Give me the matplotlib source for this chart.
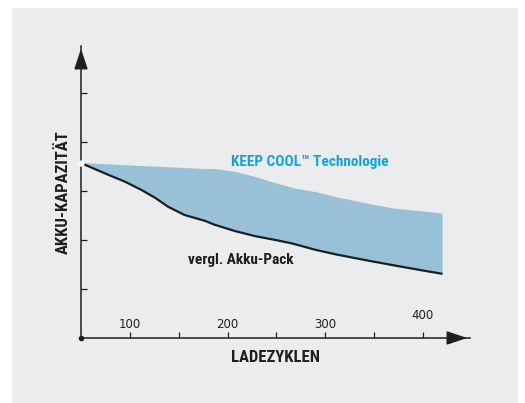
import matplotlib

matplotlib.use("Agg")
import matplotlib.pyplot as plt
from matplotlib.patches import Rectangle

plt.rcParams["font.family"] = ["Roboto Condensed", "Liberation Sans Narrow",
                               "DejaVu Sans"]
plt.rcParams["font.stretch"] = "condensed"

# KEEP COOL Kurve (obere Kante der Fläche)
cool_cycles = [50, 113, 177, 187, 208, 228, 249, 269, 290, 310, 341, 371, 402, 420]
cool_capacity = [3.57, 3.51, 3.45, 3.45, 3.39, 3.29, 3.16, 3.05, 2.98, 2.88,
                 2.75, 2.64, 2.58, 2.54]

# Vergleichs-Akku (schwarze Linie)
pack_cycles = [50, 78, 95, 112, 126, 139, 156, 177, 187, 208, 228, 249, 266,
               290, 310, 341, 371, 402, 420]
pack_capacity = [3.57, 3.33, 3.19, 3.02, 2.86, 2.68, 2.51, 2.39, 2.31, 2.18,
                 2.08, 2.00, 1.93, 1.80, 1.71, 1.59, 1.48, 1.37, 1.31]

x_ticks = [100, 150, 200, 250, 300, 350, 400]
x_labels = ["100", "", "200", "", "300", "", "400"]
label_offsets = [0.27, 0, 0.27, 0, 0.27, 0, 0.45]  # Höhe der Beschriftung über der Achse
y_ticks = [1, 2, 3, 4, 5]

BG = "#ebeced"
FILL = "#98c1d8"
BLUE = "#14a3d8"
DARK = "#1e1e1e"

W, H = 525, 403
fig = plt.figure(figsize=(W / 100, H / 100), dpi=100)
fig.patch.set_facecolor("white")
fig.patches.append(Rectangle((12 / W, 0), (518 - 12) / W, (403 - 8) / H,
                             transform=fig.transFigure, facecolor=BG,
                             edgecolor="none", zorder=-5))

x0, y0, x1, y1 = 81, 338, 470, 46
ax = fig.add_axes([x0 / W, (H - y0) / H, (x1 - x0) / W, (y0 - y1) / H])
ax.set_facecolor("none")
ax.set_xlim(50, 50 + (x1 - x0) / 0.977)
ax.set_ylim(0, (y0 - y1) / 49)

# Fläche zwischen den beiden Kurven
ax.fill(cool_cycles + pack_cycles[::-1], cool_capacity + pack_capacity[::-1],
        color=FILL, linewidth=0, zorder=2)
ax.plot(pack_cycles, pack_capacity, color=DARK, linewidth=1.6, zorder=3,
        solid_capstyle="butt")
ax.plot(pack_cycles[0], pack_capacity[0], "o", color="white", markersize=3.5,
        zorder=4, clip_on=False)

for s in ["top", "right"]:
    ax.spines[s].set_visible(False)
for s in ["left", "bottom"]:
    ax.spines[s].set_color(DARK)
    ax.spines[s].set_linewidth(1.1)

ax.set_xticks(x_ticks)
ax.set_yticks(y_ticks)
ax.tick_params(direction="in", length=4, width=0.9, color=DARK,
               labelbottom=False, labelleft=False)

for xv, lab, off in zip(x_ticks, x_labels, label_offsets):
    if lab:
        ax.text(xv, off, lab, ha="center", va="center", fontsize=8.5,
                color=DARK, family=["DejaVu Sans"], stretch="normal")

# Pfeile
ax.annotate("", xy=(1.0, 0), xytext=(0.96, 0), xycoords="axes fraction",
            arrowprops=dict(arrowstyle="-|>,head_length=0.9,head_width=0.3",
                            color=DARK, lw=1.1, mutation_scale=14),
            annotation_clip=False)
ax.annotate("", xy=(0, 1.0), xytext=(0, 0.95), xycoords="axes fraction",
            arrowprops=dict(arrowstyle="-|>,head_length=0.9,head_width=0.3",
                            color=DARK, lw=1.1, mutation_scale=14),
            annotation_clip=False)
ax.plot(0, 0, "o", color=DARK, markersize=3, transform=ax.transAxes,
        clip_on=False, zorder=5)

ax.text(284, 3.59, "KEEP COOL\u2122 Technologie", ha="center", va="center",
        fontsize=11, fontweight="bold", color=BLUE)
ax.text(213, 1.59, "vergl. Akku-Pack", ha="center", va="center",
        fontsize=11, fontweight="bold", color=DARK)

fig.text(275 / W, 1 - 357 / H, "LADEZYKLEN", ha="center", va="center",
         fontsize=12, fontweight="bold", color=DARK)
fig.text(63 / W, 1 - 192 / H, "AKKU-KAPAZITÄT", ha="center", va="center",
         rotation=90, fontsize=12, fontweight="bold", color=DARK)

fig.savefig("out.png", dpi=100)
